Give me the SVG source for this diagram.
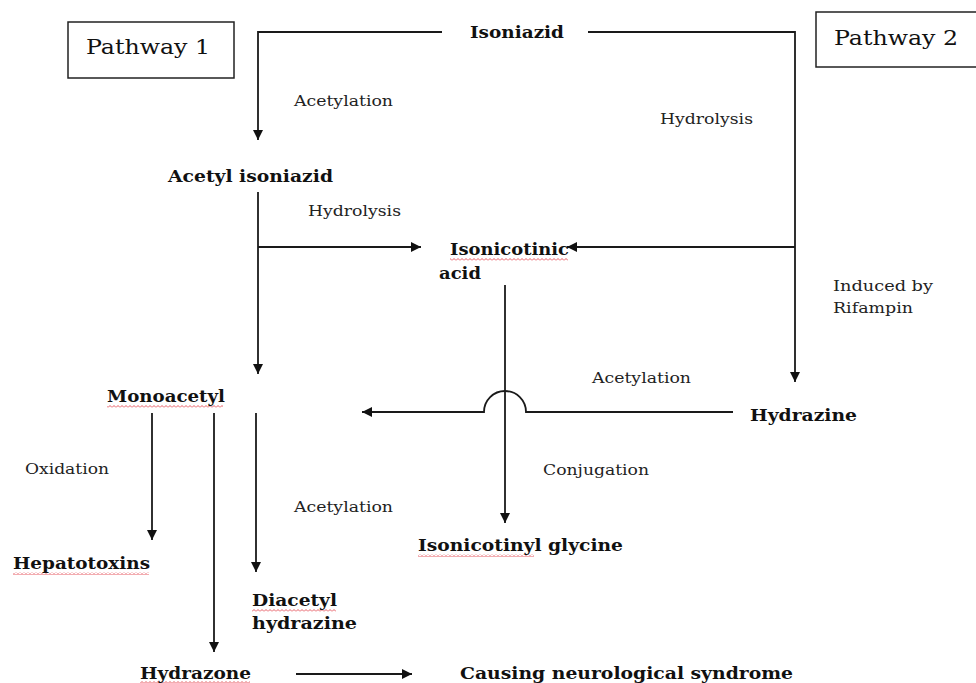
<svg xmlns="http://www.w3.org/2000/svg" width="976" height="683" viewBox="0 0 976 683">
<defs>
<marker id="ah" viewBox="0 0 10 10" refX="10" refY="5" markerWidth="10" markerHeight="10" markerUnits="userSpaceOnUse" orient="auto">
<path d="M0,0 L10,5 L0,10 z" fill="#111"/>
</marker>
<pattern id="sq" x="0" y="0" width="4" height="3" patternUnits="userSpaceOnUse">
<polyline points="0,2.5 2,0.5 4,2.5" fill="none" stroke="#e0303a" stroke-width="0.8"/>
</pattern>
<style>
.lbl{font-family:"DejaVu Serif","Liberation Serif",serif;font-size:15px;fill:#222}
.node{font-family:"DejaVu Serif","Liberation Serif",serif;font-size:17px;font-weight:bold;fill:#111}
.pw{font-family:"DejaVu Serif","Liberation Serif",serif;font-size:20px;fill:#111}
.ln{fill:none;stroke:#1a1a1a;stroke-width:1.8}
.box{fill:#fff;stroke:#222;stroke-width:1.5}
</style>
</defs>
<rect width="976" height="683" fill="#fff"/>

<g id="pathway1"><rect class="box" x="68" y="22" width="166" height="56"/><text class="pw" x="86" y="54" textLength="124" lengthAdjust="spacingAndGlyphs">Pathway 1</text></g>
<g id="pathway2"><rect class="box" x="816" y="12" width="168" height="55"/><text class="pw" x="834" y="45" textLength="124" lengthAdjust="spacingAndGlyphs">Pathway 2</text></g>

<g id="connectors">
<path class="ln" d="M442,32 H258 V140" marker-end="url(#ah)"/>
<path class="ln" d="M588,32 H795 V382" marker-end="url(#ah)"/>
<path class="ln" d="M795,247 H567" marker-end="url(#ah)"/>
<path class="ln" d="M258,192 V374" marker-end="url(#ah)"/>
<path class="ln" d="M258,247 H421" marker-end="url(#ah)"/>
<path class="ln" d="M505,285 V523" marker-end="url(#ah)"/>
<path class="ln" d="M733,412 H526 A21,21 0 0 0 484,412 H362" marker-end="url(#ah)"/>
<path class="ln" d="M152,413 V540" marker-end="url(#ah)"/>
<path class="ln" d="M214,413 V652" marker-end="url(#ah)"/>
<path class="ln" d="M256,413 V572" marker-end="url(#ah)"/>
<path class="ln" d="M296,674 H412" marker-end="url(#ah)"/>
</g>

<g id="edge-labels">
<text class="lbl" x="294" y="106" textLength="99" lengthAdjust="spacingAndGlyphs">Acetylation</text>
<text class="lbl" x="660" y="124" textLength="93" lengthAdjust="spacingAndGlyphs">Hydrolysis</text>
<text class="lbl" x="308" y="216" textLength="93" lengthAdjust="spacingAndGlyphs">Hydrolysis</text>
<text class="lbl" x="833" y="291" textLength="100" lengthAdjust="spacingAndGlyphs">Induced by</text>
<text class="lbl" x="833" y="313" textLength="80" lengthAdjust="spacingAndGlyphs">Rifampin</text>
<text class="lbl" x="592" y="383" textLength="99" lengthAdjust="spacingAndGlyphs">Acetylation</text>
<text class="lbl" x="25" y="474" textLength="84" lengthAdjust="spacingAndGlyphs">Oxidation</text>
<text class="lbl" x="294" y="512" textLength="99" lengthAdjust="spacingAndGlyphs">Acetylation</text>
<text class="lbl" x="543" y="475" textLength="106" lengthAdjust="spacingAndGlyphs">Conjugation</text>
</g>

<g id="isoniazid"><text class="node" x="470" y="38" textLength="94" lengthAdjust="spacingAndGlyphs">Isoniazid</text></g>
<g id="acetyl-isoniazid"><text class="node" x="168" y="182" textLength="165" lengthAdjust="spacingAndGlyphs">Acetyl isoniazid</text></g>
<g id="isonicotinic-acid">
<rect x="450" y="258" width="118" height="3" fill="url(#sq)"/>
<text class="node" x="450" y="255" textLength="119" lengthAdjust="spacingAndGlyphs">Isonicotinic</text>
<text class="node" x="439" y="279" textLength="42" lengthAdjust="spacingAndGlyphs">acid</text>
</g>
<g id="hydrazine"><text class="node" x="750" y="421" textLength="107" lengthAdjust="spacingAndGlyphs">Hydrazine</text></g>
<g id="monoacetyl">
<rect x="107" y="405" width="116" height="3" fill="url(#sq)"/>
<text class="node" x="107" y="402" textLength="118" lengthAdjust="spacingAndGlyphs">Monoacetyl</text>
</g>
<g id="hepatotoxins">
<rect x="13" y="572" width="136" height="3" fill="url(#sq)"/>
<text class="node" x="13" y="569" textLength="137" lengthAdjust="spacingAndGlyphs">Hepatotoxins</text>
</g>
<g id="isonicotinyl-glycine">
<rect x="418" y="554" width="116" height="3" fill="url(#sq)"/>
<text class="node" x="418" y="551" textLength="205" lengthAdjust="spacingAndGlyphs">Isonicotinyl glycine</text>
</g>
<g id="diacetyl-hydrazine">
<rect x="252" y="609" width="84" height="3" fill="url(#sq)"/>
<text class="node" x="252" y="606" textLength="85" lengthAdjust="spacingAndGlyphs">Diacetyl</text>
<text class="node" x="252" y="629" textLength="105" lengthAdjust="spacingAndGlyphs">hydrazine</text>
</g>
<g id="hydrazone">
<rect x="140" y="681" width="110" height="3" fill="url(#sq)"/>
<text class="node" x="140" y="679" textLength="111" lengthAdjust="spacingAndGlyphs">Hydrazone</text>
</g>
<g id="neuro"><text class="node" x="460" y="679" textLength="333" lengthAdjust="spacingAndGlyphs">Causing neurological  syndrome</text></g>
</svg>
